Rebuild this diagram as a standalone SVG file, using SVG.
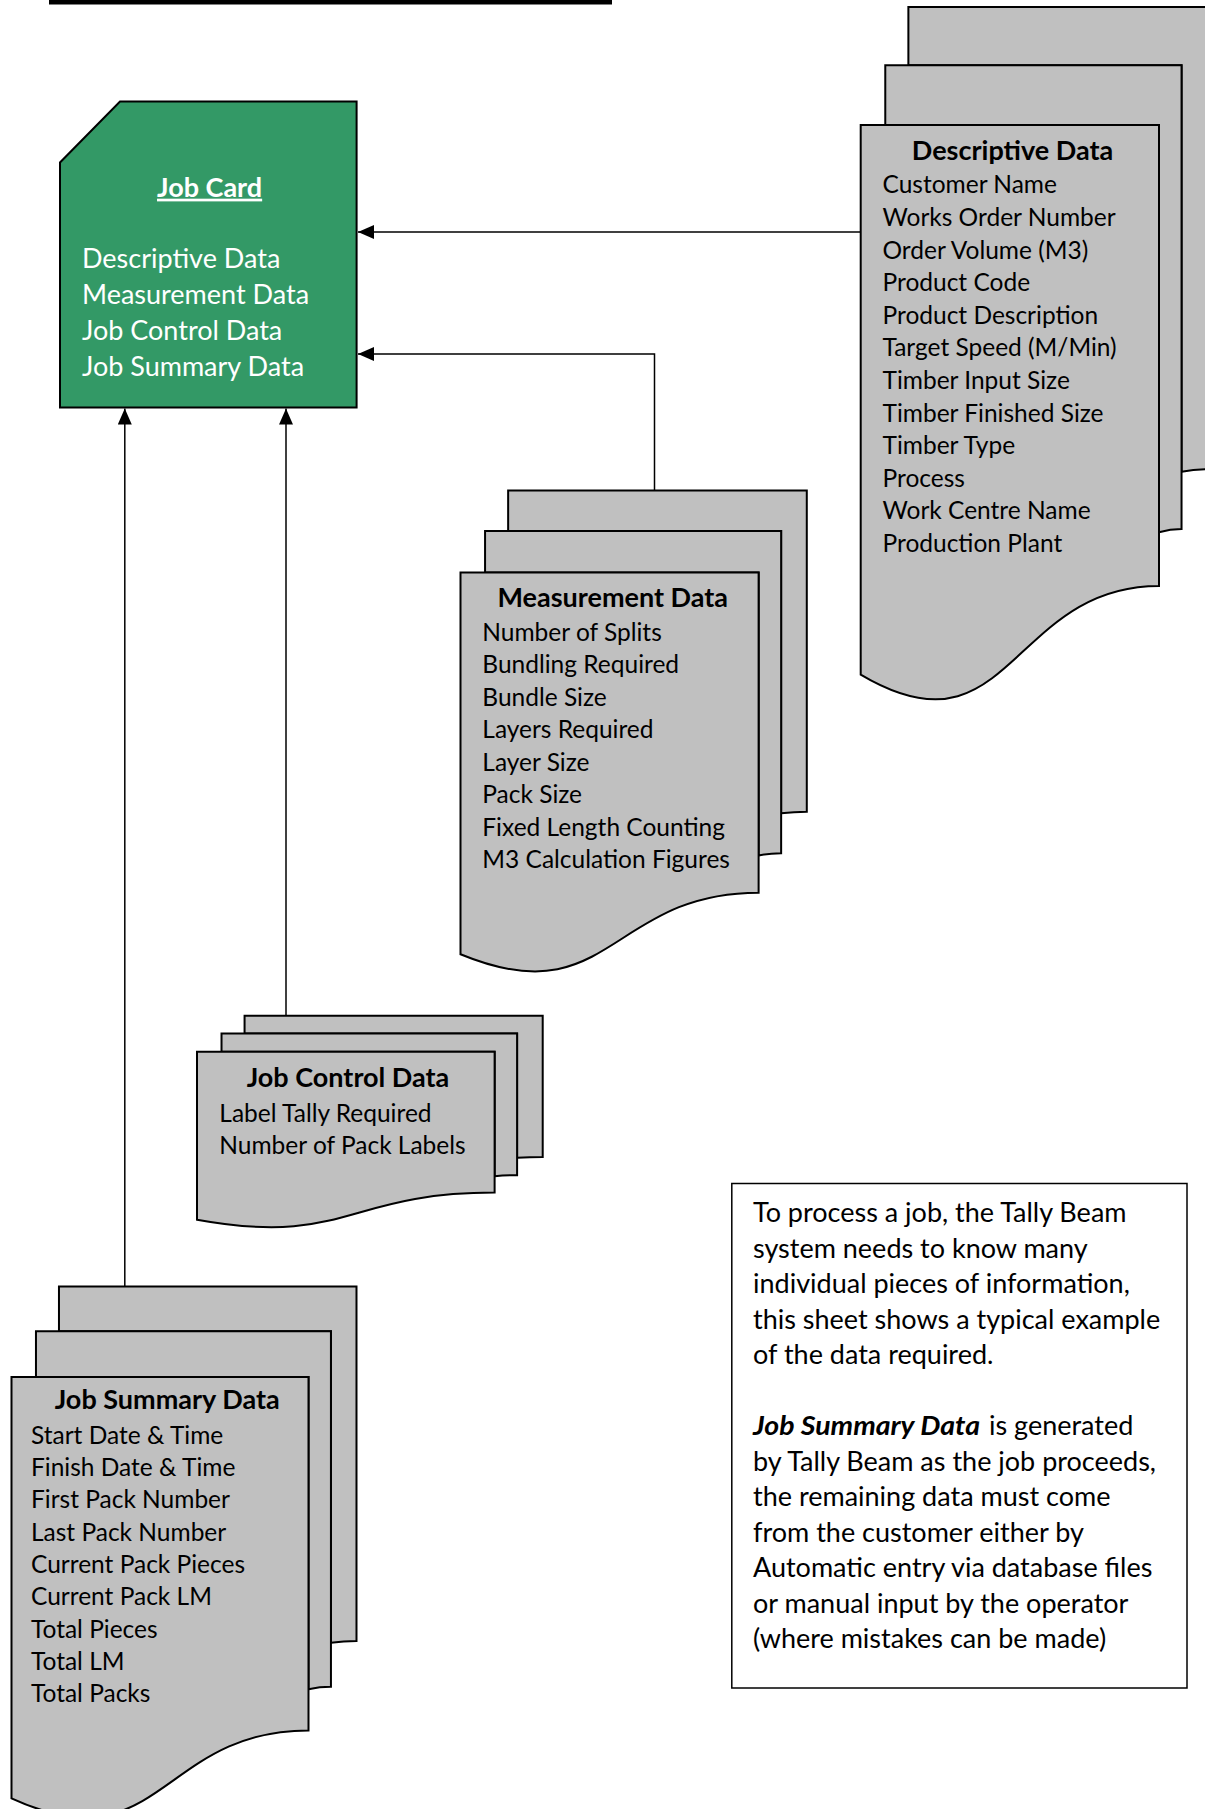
<svg xmlns="http://www.w3.org/2000/svg" xmlns:xlink="http://www.w3.org/1999/xlink" width="1205" height="1809" viewBox="0 0 1205 1809">
<style>
.pg{fill:#c0c0c0;stroke:#000;stroke-width:2;vector-effect:non-scaling-stroke;stroke-linejoin:miter}
.t{font-family:Lato,"Open Sans",sans-serif;fill:#000}
.it{font-size:24.5px}
.hd{font-size:27px;font-weight:bold;text-anchor:middle}
.jc{font-family:Lato,"Open Sans",sans-serif;fill:#fff;font-size:27px}
.note{font-family:Lato,"Open Sans",sans-serif;fill:#000;font-size:27px}
.cn{fill:none;stroke:#000;stroke-width:1.5}
</style>
<defs>
<marker id="ah" markerUnits="userSpaceOnUse" markerWidth="16" markerHeight="14" refX="16" refY="7" orient="auto">
<path d="M0,0 L16,7 L0,14 Z" fill="#000"/>
</marker>
<g id="multidoc">
<path class="pg" d="M2972,1815 L2972,0 L21600,0 L21600,14392 C20800,14392 20000,14467 20000,14467 L20000,1815 Z"/>
<path class="pg" d="M1532,3675 L1532,1815 L20000,1815 L20000,16252 C19298,16252 18595,16352 18595,16352 L18595,3675 Z"/>
<path class="pg" d="M0,3675 L18595,3675 L18595,18022 C9298,18022 9298,23542 0,20782 Z"/>
</g>
</defs>
<rect x="0" y="0" width="1205" height="1809" fill="#fff"/>
<rect id="title-underline" x="49" y="0" width="563" height="4.5" fill="#000"/>

<g id="connectors">
<path class="cn" d="M861,232 H358" marker-end="url(#ah)"/>
<path class="cn" d="M654.5,490.5 V354 H358" marker-end="url(#ah)"/>
<path class="cn" d="M286,1015.7 V408.5" marker-end="url(#ah)"/>
<path class="cn" d="M124.8,1286.5 V408.5" marker-end="url(#ah)"/>
</g>

<g id="job-card">
<path d="M120,101.6 H356.6 V407.4 H60 V162.5 Z" fill="#339966" stroke="#000" stroke-width="2"/>
<text class="jc" x="209.6" y="196.7" font-weight="bold" text-anchor="middle" text-decoration="underline">Job Card</text>
<text class="jc" x="82" y="268.3">Descriptive Data</text>
<text class="jc" x="82" y="304.3">Measurement Data</text>
<text class="jc" x="82" y="340">Job Control Data</text>
<text class="jc" x="82" y="375.7">Job Summary Data</text>
</g>

<g id="descriptive-data">
<use xlink:href="#multidoc" href="#multidoc" transform="translate(860.7,6.9) scale(0.016042,0.032130)"/>
<text class="t hd" x="1012.5" y="159.5">Descriptive Data</text>
<text class="t it" x="882.5" y="193.3">Customer Name</text>
<text class="t it" x="882.5" y="225.9">Works Order Number</text>
<text class="t it" x="882.5" y="258.5">Order Volume (M3)</text>
<text class="t it" x="882.5" y="291.1">Product Code</text>
<text class="t it" x="882.5" y="323.7">Product Description</text>
<text class="t it" x="882.5" y="356.3">Target Speed (M/Min)</text>
<text class="t it" x="882.5" y="388.9">Timber Input Size</text>
<text class="t it" x="882.5" y="421.5">Timber Finished Size</text>
<text class="t it" x="882.5" y="454.1">Timber Type</text>
<text class="t it" x="882.5" y="486.7">Process</text>
<text class="t it" x="882.5" y="519.3">Work Centre Name</text>
<text class="t it" x="882.5" y="551.9">Production Plant</text>
</g>

<g id="measurement-data">
<use xlink:href="#multidoc" href="#multidoc" transform="translate(460.5,490.5) scale(0.016032,0.022315)"/>
<text class="t hd" x="612.8" y="606.7">Measurement Data</text>
<text class="t it" x="482.3" y="640.7">Number of Splits</text>
<text class="t it" x="482.3" y="673.2">Bundling Required</text>
<text class="t it" x="482.3" y="705.7">Bundle Size</text>
<text class="t it" x="482.3" y="738.2">Layers Required</text>
<text class="t it" x="482.3" y="770.7">Layer Size</text>
<text class="t it" x="482.3" y="803.2">Pack Size</text>
<text class="t it" x="482.3" y="835.7">Fixed Length Counting</text>
<text class="t it" x="482.3" y="868.2">M3 Calculation Figures</text>
</g>

<g id="job-control-data">
<use xlink:href="#multidoc" href="#multidoc" transform="translate(197,1015.7) scale(0.016005,0.009815)"/>
<text class="t hd" x="348" y="1087.3">Job Control Data</text>
<text class="t it" x="219.3" y="1121.7">Label Tally Required</text>
<text class="t it" x="219.3" y="1154.2">Number of Pack Labels</text>
</g>

<g id="job-summary-data">
<use xlink:href="#multidoc" href="#multidoc" transform="translate(11.5,1286.5) scale(0.015972,0.024630)"/>
<text class="t hd" x="167.2" y="1409.2">Job Summary Data</text>
<text class="t it" x="31" y="1443.5">Start Date &amp; Time</text>
<text class="t it" x="31" y="1475.9">Finish Date &amp; Time</text>
<text class="t it" x="31" y="1508.2">First Pack Number</text>
<text class="t it" x="31" y="1540.6">Last Pack Number</text>
<text class="t it" x="31" y="1572.9">Current Pack Pieces</text>
<text class="t it" x="31" y="1605.3">Current Pack LM</text>
<text class="t it" x="31" y="1637.6">Total Pieces</text>
<text class="t it" x="31" y="1670">Total LM</text>
<text class="t it" x="31" y="1702.3">Total Packs</text>
</g>

<g id="note">
<rect x="731.8" y="1183.5" width="455.2" height="504.5" fill="#fff" stroke="#000" stroke-width="1.5"/>
<text class="note" x="753" y="1222.4">To process a job, the Tally Beam</text>
<text class="note" x="753" y="1257.9">system needs to know many</text>
<text class="note" x="753" y="1293.4">individual pieces of information,</text>
<text class="note" x="753" y="1328.9">this sheet shows a typical example</text>
<text class="note" x="753" y="1364.4">of the data required.</text>
<text class="note" x="753" y="1435.4" font-weight="bold" font-style="italic" textLength="227" lengthAdjust="spacingAndGlyphs">Job Summary Data</text>
<text class="note" x="989" y="1435.4">is generated</text>
<text class="note" x="753" y="1470.9">by Tally Beam as the job proceeds,</text>
<text class="note" x="753" y="1506.4">the remaining data must come</text>
<text class="note" x="753" y="1541.9">from the customer either by</text>
<text class="note" x="753" y="1577.4">Automatic entry via database files</text>
<text class="note" x="753" y="1612.9">or manual input by the operator</text>
<text class="note" x="753" y="1648.4">(where mistakes can be made)</text>
</g>
</svg>
